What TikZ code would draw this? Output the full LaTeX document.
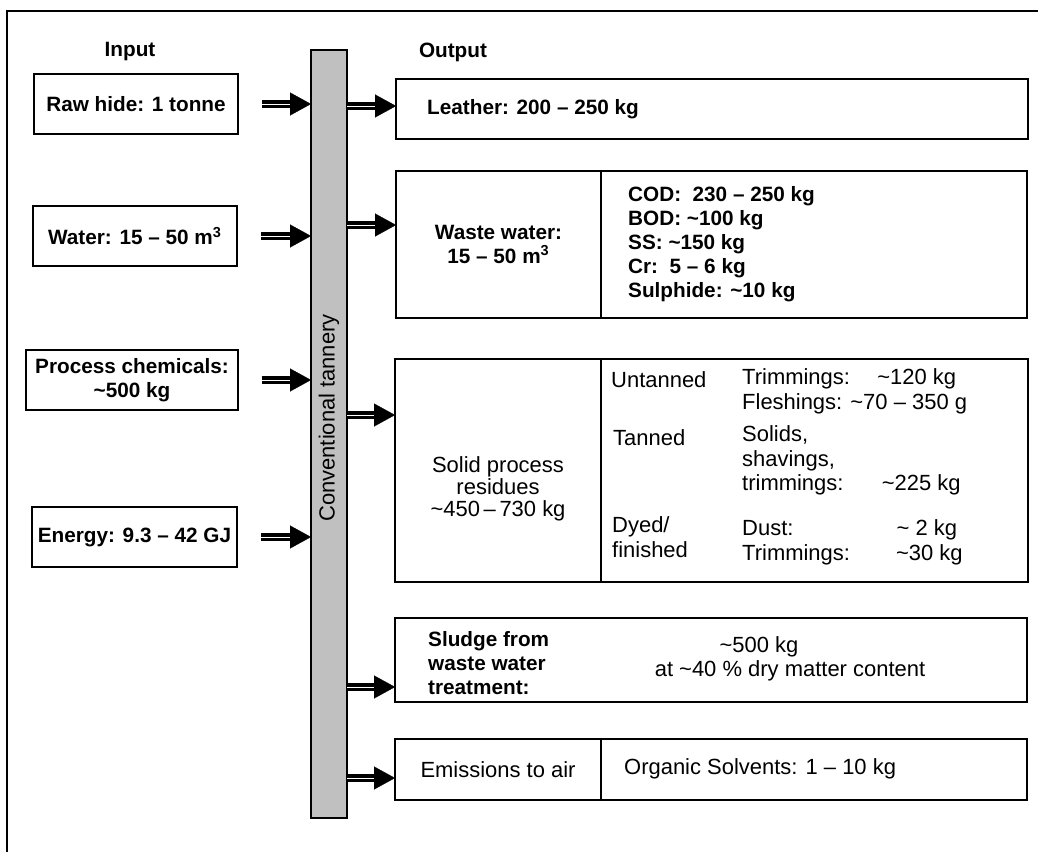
\documentclass[tikz,border=0pt]{standalone}
\usepackage{fontspec}
\setmainfont{Liberation Sans}
\usetikzlibrary{positioning,arrows.meta}
\definecolor{barra}{RGB}{192,192,192}
\newcommand{\ap}{\textasciitilde}

\begin{document}
\begin{tikzpicture}[x=0.02cm,y=-0.02cm,
  caja/.style={draw, line width=0.9pt, outer sep=0pt, inner sep=0pt},
  negrita/.style={font=\bfseries\fontsize{11.8}{13.6}\selectfont},
  normal/.style={font=\fontsize{12.5}{14}\selectfont},
  cuerpo/.style={double, double distance=0.4pt, line width=1.9pt, shorten >=0.38cm},
  punta/.style={line width=0.1pt, -{Triangle[length=0.42cm,width=0.46cm]}}]
\useasboundingbox (0,0) rectangle (1038,852);

% Marco
\draw[line width=1.4pt] (7,852) -- (7,11) -- (1038,11);

% Titulos
\node[negrita] (input) at (130,52) {Input};
\node[negrita] (output) at (453,52) {Output};

% Curtiembre
\node[caja, fill=barra, minimum width=0.72cm, minimum height=15.36cm] (bar) at (329,434) {};
\node[normal, rotate=90] (bartxt) at (329,418) {Conventional tannery};

% Entradas
\node[caja, negrita, minimum width=4.08cm, minimum height=1.2cm] (raw) at (136,104) {Raw hide: 1 tonne};
\node[caja, negrita, minimum width=4.08cm, minimum height=1.2cm] (water) at (135,236) {Water: 15 – 50 m\textsuperscript{3}};
\node[caja, negrita, align=center, minimum width=4.24cm, minimum height=1.2cm] (chem) at (132,380) {Process chemicals:\\\ap500 kg};
\node[caja, negrita, minimum width=4.1cm, minimum height=1.2cm] (energy) at (134.5,537) {Energy: 9.3 – 42 GJ};

\foreach \n in {raw,water,chem,energy}{
  \coordinate (\n-out) at (\n.east -| bar.west);
  \draw[cuerpo] ([xshift=0.48cm]\n.east) -- (\n-out);
  \draw[punta] ([xshift=-0.42cm]\n-out) -- (\n-out);
}

% Salidas
\node[caja, minimum width=12.64cm, minimum height=1.2cm] (leather) at (712,109) {};
\node[negrita, anchor=west] (leathertxt) at (421,109) {Leather: 200 – 250 kg};

\node[caja, negrita, align=center, minimum width=4.1cm, minimum height=2.94cm] (wwL) at (498.5,244.5) {Waste water:\\15 – 50 m\textsuperscript{3}};
\node[caja, minimum width=8.52cm, minimum height=2.94cm, right=0pt of wwL] (wwR) {};
\node[negrita, align=left, anchor=west] (wwtxt) at (622,244) {COD:\ \ 230 – 250 kg\\BOD: \ap100 kg\\SS: \ap150 kg\\Cr:\ \ 5 – 6 kg\\Sulphide: \ap10 kg};

\node[caja, minimum width=4.12cm, minimum height=4.46cm] (solL) at (498,470.5) {};
\node[caja, minimum width=8.54cm, minimum height=4.46cm, right=0pt of solL] (solR) {};
\node[normal, align=center, font=\fontsize{12.5}{12.5}\selectfont] (soltxt) at (498,489) {Solid process\\residues\\\ap450\,–\,730 kg};
\node[normal, anchor=west] (untanned) at (605,380) {Untanned};
\node[normal, anchor=west] (tanned) at (607,438) {Tanned};
\node[normal, anchor=west, align=left] (dyed) at (606,537) {Dyed/\\finished};
\node[normal, anchor=west, align=left] (untitems) at (736,391.5) {Trimmings:\hspace{1.25em}\ap120 kg\\Fleshings: \ap70 – 350 g};
\node[normal, anchor=west, align=left] (tanitems) at (736,460.5) {Solids,\\shavings,\\trimmings:\hspace{1.75em}\ap225 kg};
\node[normal, anchor=west, align=left] (dyeditems) at (736,542.5) {Dust:\hspace{4.7em}\ap\ 2 kg\\Trimmings:\hspace{2.1em}\ap30 kg};

\node[caja, minimum width=12.64cm, minimum height=1.68cm] (sludge) at (711,660) {};
\node[negrita, anchor=west, align=left] (sludgetxt) at (422,663) {Sludge from\\waste water\\treatment:};
\node[normal, align=center] (sludgeval) at (790,659) {\ap500 kg\hspace*{1.24cm}\\at \ap40 \% dry matter content};

\node[caja, normal, minimum width=4.12cm, minimum height=1.22cm] (emL) at (498,769.5) {Emissions to air};
\node[caja, minimum width=8.52cm, minimum height=1.22cm, right=0pt of emL] (emR) {};
\node[normal, anchor=west] (emtxt) at (618,769) {Organic Solvents: 1 – 10 kg};

\foreach \n/\s in {leather/0.06, wwL/0.39, solL/1.11, sludge/-0.54, emL/-0.17}{
  \coordinate (\n-in) at ([yshift=\s cm]\n.west);
  \draw[cuerpo] (bar.east |- \n-in) -- (\n-in);
  \draw[punta] ([xshift=-0.42cm]\n-in) -- (\n-in);
}
\end{tikzpicture}
\end{document}
